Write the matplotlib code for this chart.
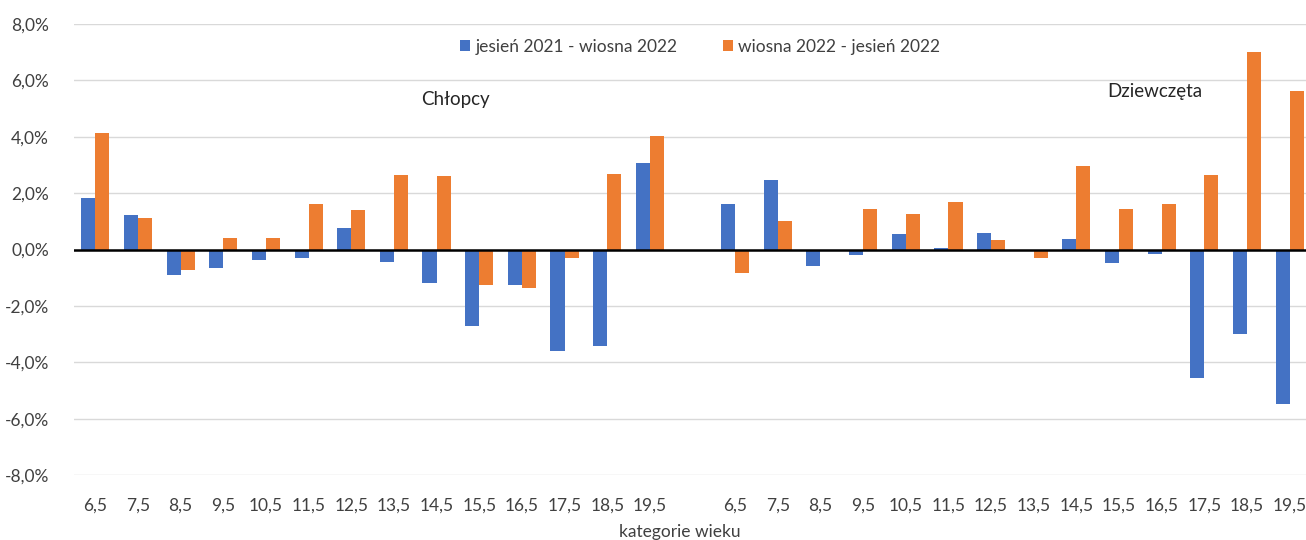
import matplotlib
matplotlib.use("Agg")
import matplotlib.pyplot as plt
from matplotlib.patches import Patch
from matplotlib.ticker import FuncFormatter, MultipleLocator
import numpy as np

plt.rcParams['font.family'] = ['Lato', 'DejaVu Sans']

ages = ["6,5", "7,5", "8,5", "9,5", "10,5", "11,5", "12,5",
        "13,5", "14,5", "15,5", "16,5", "17,5", "18,5", "19,5"]

# Change in percent, boys
boys_autumn_spring = [1.84, 1.24, -0.92, -0.65, -0.38, -0.29, 0.76,
                      -0.45, -1.18, -2.71, -1.27, -3.60, -3.44, 3.07]
boys_spring_autumn = [4.13, 1.10, -0.73, 0.41, 0.41, 1.62, 1.41,
                      2.64, 2.59, -1.27, -1.37, -0.29, 2.67, 4.02]

# Change in percent, girls
girls_autumn_spring = [1.60, 2.48, -0.58, -0.21, 0.56, 0.05, 0.59,
                       -0.06, 0.39, -0.47, -0.16, -4.56, -3.00, -5.49]
girls_spring_autumn = [-0.85, 1.00, 0.00, 1.42, 1.27, 1.69, 0.32,
                       -0.29, 2.95, 1.42, 1.62, 2.64, 6.99, 5.63]

series_labels = ["jesień 2021 - wiosna 2022", "wiosna 2022 - jesień 2022"]
group_labels = ["Chłopcy", "Dziewczęta"]
blue = "#4472C4"
orange = "#ED7D31"

# boys, one empty slot, girls
tick_labels = ages + [""] + ages
s1 = np.array(boys_autumn_spring + [np.nan] + girls_autumn_spring)
s2 = np.array(boys_spring_autumn + [np.nan] + girls_spring_autumn)
x = np.arange(len(tick_labels))

fig = plt.figure(figsize=(13.06, 5.4), dpi=100)
ax = fig.add_axes([74 / 1306, 65 / 540, 1237 / 1306, 451 / 540])

w = 0.33
ax.bar(x - w / 2, s1, width=w, color=blue, zorder=3)
ax.bar(x + w / 2, s2, width=w, color=orange, zorder=3)

ax.set_xlim(-0.5, len(x) - 0.5)
ax.set_ylim(-8, 8)
ax.yaxis.set_major_locator(MultipleLocator(2))
ax.yaxis.set_major_formatter(FuncFormatter(lambda v, p: f"{v:.1f}%".replace(".", ",")))
ax.grid(axis="y", color="#d9d9d9", linewidth=1.0, zorder=0)
ax.axhline(0, color="black", linewidth=1.8, zorder=4)

ax.set_xticks(x)
ax.set_xticklabels(tick_labels)
ax.tick_params(axis="both", length=0, labelsize=12.5, colors="#404040")
ax.tick_params(axis="x", pad=16)
ax.tick_params(axis="y", pad=18)
for s in ax.spines.values():
    s.set_visible(False)

fig.text(680 / 1306, 1 - 532 / 540, "kategorie wieku", ha="center", va="center",
         fontsize=12.5, color="#404040")

fig.text(455 / 1306, 1 - 100 / 540, group_labels[0], ha="center", va="center",
         fontsize=13.5, color="#262626")
fig.text(1155 / 1306, 1 - 92 / 540, group_labels[1], ha="center", va="center",
         fontsize=13.5, color="#262626")

handles = [Patch(facecolor=blue), Patch(facecolor=orange)]
fig.legend(handles, series_labels, loc="center", bbox_to_anchor=(700 / 1306, 1 - 47 / 540),
           ncol=2, frameon=False, fontsize=12.5, handlelength=0.6, handleheight=0.6,
           handletextpad=0.3, columnspacing=2.6, labelcolor="#404040")

fig.savefig("out.png", dpi=100)
